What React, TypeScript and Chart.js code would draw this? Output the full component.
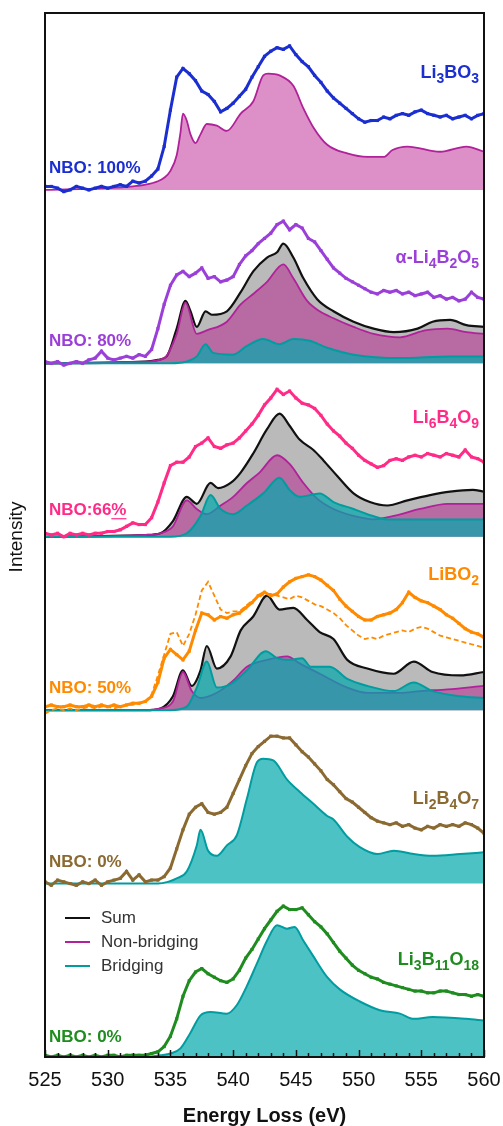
import React, { useEffect, useRef } from 'react';
import { Chart, registerables } from 'chart.js';
Chart.register(...registerables);

// Experimental energy grid (eV)
const expEnergy = [
  525, 525.5, 526, 526.5, 527, 527.5, 528, 528.5, 529, 529.5,
  530, 530.5, 531, 531.5, 532, 532.5, 533, 533.5, 534, 534.5,
  535, 535.5, 536, 536.5, 537, 537.5, 538, 538.5, 539, 539.5,
  540, 540.5, 541, 541.5, 542, 542.5, 543, 543.5, 544, 544.5,
  545, 545.5, 546, 546.5, 547, 547.5, 548, 548.5, 549, 549.5,
  550, 550.5, 551, 551.5, 552, 552.5, 553, 553.5, 554, 554.5,
  555, 555.5, 556, 556.5, 557, 557.5, 558, 558.5, 559, 559.5,
  560,
];

// Experimental spectra (normalised intensity within each panel)
const li3bo3Exp = [
  0.02, 0.02, 0.01, -0.01, 0.0, 0.02, 0.01, 0.0, 0.01, 0.02,
  0.01, 0.02, 0.03, 0.02, 0.05, 0.04, 0.05, 0.08, 0.12, 0.25,
  0.46, 0.65, 0.7, 0.67, 0.63, 0.57, 0.55, 0.51, 0.45, 0.47,
  0.5, 0.54, 0.58, 0.65, 0.71, 0.77, 0.8, 0.82, 0.81, 0.83,
  0.78, 0.74, 0.71, 0.66, 0.62, 0.57, 0.53, 0.5, 0.47, 0.44,
  0.41, 0.39, 0.4, 0.4, 0.42, 0.41, 0.43, 0.44, 0.43, 0.45,
  0.46, 0.44, 0.43, 0.42, 0.43, 0.41, 0.42, 0.43, 0.41, 0.43,
  0.44,
];
const li4b2o5Exp = [
  0.01, 0.0, 0.01, -0.01, 0.0, 0.01, 0.0, 0.02, 0.03, 0.07,
  0.03, 0.02, 0.03, 0.04, 0.03, 0.05, 0.04, 0.08, 0.2, 0.34,
  0.45, 0.51, 0.53, 0.5, 0.52, 0.55, 0.49, 0.5, 0.47, 0.48,
  0.5, 0.57, 0.62, 0.65, 0.69, 0.72, 0.75, 0.8, 0.82, 0.77,
  0.8, 0.78, 0.72, 0.7, 0.65, 0.6, 0.55, 0.52, 0.49, 0.47,
  0.45, 0.43, 0.41, 0.4, 0.42, 0.41, 0.42, 0.4, 0.41, 0.39,
  0.4, 0.41, 0.38, 0.39, 0.37, 0.38, 0.36, 0.37, 0.41, 0.38,
  0.37,
];
const li6b4o9Exp = [
  0.02, 0.01, 0.02, 0.0, 0.02, 0.01, 0.02, 0.01, 0.02, 0.02,
  0.03, 0.03, 0.04, 0.06, 0.08, 0.07, 0.07, 0.11, 0.2, 0.31,
  0.41, 0.43, 0.43, 0.46, 0.52, 0.54, 0.57, 0.52, 0.51, 0.53,
  0.54, 0.57, 0.61, 0.65, 0.7, 0.76, 0.8, 0.85, 0.82, 0.84,
  0.8, 0.77, 0.76, 0.74, 0.7, 0.65, 0.61, 0.58, 0.54, 0.51,
  0.47, 0.44, 0.42, 0.4, 0.41, 0.44, 0.45, 0.44, 0.46, 0.47,
  0.46, 0.48, 0.47, 0.46, 0.48, 0.47, 0.46, 0.5, 0.46, 0.45,
  0.43,
];
const libo2Exp = [
  0.02, 0.03, 0.02, 0.02, 0.03, 0.02, 0.02, 0.03, 0.02, 0.03,
  0.02, 0.03, 0.02, 0.03, 0.04, 0.04, 0.05, 0.08, 0.16, 0.3,
  0.35, 0.32, 0.29, 0.34, 0.46, 0.56, 0.55, 0.52, 0.54, 0.53,
  0.55, 0.56, 0.59, 0.62, 0.66, 0.68, 0.66, 0.67, 0.71, 0.74,
  0.76, 0.77, 0.78, 0.77, 0.75, 0.72, 0.69, 0.64, 0.6, 0.57,
  0.54, 0.52, 0.52, 0.54, 0.55, 0.56, 0.58, 0.62, 0.68, 0.65,
  0.63, 0.62, 0.6, 0.58, 0.55, 0.53, 0.5, 0.47, 0.45, 0.44,
  0.42,
];
const libo2ExpDashed = [
  -0.02, 0.0, 0.01, 0.0, 0.01, 0.0, 0.01, 0.02, 0.01, 0.02,
  0.02, 0.01, 0.02, 0.03, 0.03, 0.04, 0.05, 0.09, 0.2, 0.32,
  0.44, 0.45, 0.37, 0.44, 0.55, 0.69, 0.74, 0.66, 0.58, 0.56,
  0.57, 0.57, 0.6, 0.63, 0.65, 0.67, 0.67, 0.66, 0.65, 0.64,
  0.66, 0.65, 0.63, 0.61, 0.6, 0.58, 0.56, 0.53, 0.49, 0.46,
  0.43, 0.41, 0.42, 0.41, 0.43, 0.44, 0.45, 0.46, 0.45, 0.47,
  0.48, 0.47, 0.45, 0.43, 0.42, 0.41, 0.4, 0.39, 0.38, 0.37,
  0.36,
];
const li2b4o7Exp = [
  0.01, -0.01, 0.02, 0.01, 0.0, -0.01, 0.01, 0.0, 0.02, -0.01,
  0.01, 0.02, 0.03, 0.07, 0.02, 0.05, 0.01, 0.02, 0.02, 0.04,
  0.09, 0.2, 0.31, 0.4, 0.44, 0.46, 0.41, 0.4, 0.41, 0.44,
  0.52, 0.6, 0.68, 0.75, 0.79, 0.82, 0.85, 0.85, 0.84, 0.84,
  0.8, 0.76, 0.73, 0.69, 0.65, 0.6, 0.57, 0.53, 0.49, 0.47,
  0.44, 0.41, 0.38, 0.36, 0.35, 0.34, 0.35, 0.33, 0.34, 0.32,
  0.31, 0.33, 0.32, 0.34, 0.33, 0.34, 0.33, 0.35, 0.34, 0.32,
  0.29,
];
const li3b11o18Exp = [
  0.01, 0.0, 0.01, 0.0, 0.01, 0.0, 0.01, 0.0, 0.01, 0.0,
  0.01, 0.01, 0.0, 0.01, 0.01, 0.01, 0.01, 0.02, 0.03, 0.06,
  0.12, 0.22, 0.35, 0.44, 0.49, 0.51, 0.48, 0.46, 0.44, 0.43,
  0.45, 0.5, 0.57, 0.62, 0.68, 0.74, 0.79, 0.84, 0.87, 0.85,
  0.85, 0.86, 0.82, 0.78, 0.75, 0.71, 0.66, 0.61, 0.57, 0.53,
  0.5, 0.48, 0.46, 0.45, 0.43, 0.42, 0.41, 0.4, 0.39, 0.38,
  0.38, 0.37, 0.37, 0.38, 0.38, 0.37, 0.36, 0.36, 0.35, 0.36,
  0.35,
];

// Calculated components
const nb1E = [525, 530, 532, 533, 534, 534.5, 535, 535.5, 535.8, 536, 536.3, 536.6, 537, 537.4, 537.9, 538.7, 539.5, 540.6, 541.6, 542.4, 542.8, 543.7, 544.8, 545.6, 546.4, 547.5, 549.1, 550.7, 552, 552.7, 553.9, 556.5, 558.6, 560];
const nb1V = [0.0, 0.01, 0.02, 0.03, 0.05, 0.07, 0.11, 0.2, 0.33, 0.44, 0.4, 0.32, 0.27, 0.32, 0.38, 0.37, 0.34, 0.44, 0.51, 0.66, 0.67, 0.66, 0.6, 0.47, 0.36, 0.26, 0.21, 0.19, 0.19, 0.23, 0.25, 0.22, 0.25, 0.22];

const sum2E = [525, 533, 534, 534.7, 535.5, 536.2, 536.6, 537.1, 537.8, 538.3, 539.5, 540.6, 541.6, 542.7, 543.5, 544, 544.8, 545.6, 546.7, 548, 549.6, 551.2, 552.8, 554.7, 555.9, 557.3, 558.6, 560];
const sum2V = [0, 0.01, 0.02, 0.04, 0.2, 0.36, 0.3, 0.21, 0.3, 0.28, 0.3, 0.41, 0.53, 0.61, 0.64, 0.69, 0.61, 0.49, 0.37, 0.3, 0.24, 0.2, 0.18, 0.2, 0.24, 0.25, 0.22, 0.21];
const nb2E = [525, 533, 534.5, 535.5, 536.2, 537.1, 537.9, 539.5, 540.6, 541.6, 542.7, 544, 544.8, 545.9, 546.9, 548, 549.6, 551.2, 553.3, 555.3, 557.1, 558.6, 560];
const nb2V = [0, 0.01, 0.03, 0.17, 0.35, 0.17, 0.19, 0.24, 0.34, 0.4, 0.47, 0.57, 0.49, 0.36, 0.3, 0.26, 0.21, 0.17, 0.15, 0.19, 0.2, 0.18, 0.17];
const br2E = [525, 535, 536.3, 537.1, 537.8, 538.4, 540, 541.1, 542.4, 543.7, 544.8, 546.1, 547.5, 549.6, 553.3, 557.3, 560];
const br2V = [0, 0.0, 0.01, 0.04, 0.11, 0.06, 0.05, 0.1, 0.14, 0.11, 0.14, 0.13, 0.09, 0.05, 0.03, 0.04, 0.04];

const sum3E = [525, 533, 534.2, 535.2, 536.3, 537.1, 538.2, 538.8, 539.8, 540.6, 541.6, 542.7, 543.7, 544.5, 545.3, 546.4, 547.2, 548.3, 549.6, 550.9, 552.3, 553.9, 555.7, 557.3, 559.1, 560];
const sum3V = [0, 0.01, 0.02, 0.09, 0.23, 0.19, 0.31, 0.28, 0.31, 0.37, 0.48, 0.62, 0.71, 0.64, 0.56, 0.5, 0.44, 0.35, 0.25, 0.2, 0.18, 0.21, 0.24, 0.26, 0.27, 0.26];
const nb3E = [525, 533, 534.2, 535.2, 536.3, 537.1, 537.9, 539, 540, 541.1, 542.1, 543.5, 544.5, 545.6, 546.7, 548, 549.6, 551.2, 552.8, 554.9, 557.1, 559.1, 560];
const nb3V = [0, 0.01, 0.02, 0.06, 0.21, 0.16, 0.13, 0.18, 0.23, 0.31, 0.37, 0.47, 0.42, 0.31, 0.22, 0.16, 0.12, 0.1, 0.12, 0.16, 0.19, 0.19, 0.19];
const br3E = [525, 535, 536.3, 537.4, 538.2, 539, 540, 541.1, 542.4, 543.7, 544.5, 545.3, 546.9, 548, 549.6, 550.7, 552.3, 555.9, 560];
const br3V = [0, 0.0, 0.02, 0.12, 0.24, 0.16, 0.13, 0.18, 0.25, 0.34, 0.27, 0.23, 0.25, 0.2, 0.16, 0.13, 0.1, 0.1, 0.1];

const sum4E = [525, 533, 534.2, 535.2, 536, 536.7, 537.4, 537.9, 538.7, 539.8, 540.6, 541.6, 542.7, 543.7, 544.8, 545.9, 546.9, 548, 549.1, 550.7, 552.8, 554.4, 555.9, 558.1, 560];
const sum4V = [0, 0.0, 0.01, 0.08, 0.23, 0.14, 0.23, 0.37, 0.24, 0.31, 0.46, 0.54, 0.66, 0.58, 0.59, 0.52, 0.45, 0.41, 0.29, 0.24, 0.21, 0.28, 0.22, 0.2, 0.22];
const nb4E = [525, 533, 534.2, 535.2, 536, 536.7, 537.4, 538.7, 540, 541.1, 542.7, 544.3, 545.3, 546.9, 549.1, 550.7, 553.3, 554.9, 557.1, 560];
const nb4V = [0, 0.0, 0.01, 0.05, 0.22, 0.11, 0.07, 0.1, 0.17, 0.25, 0.29, 0.31, 0.27, 0.21, 0.13, 0.1, 0.1, 0.11, 0.12, 0.14];
const br4E = [525, 535, 536.3, 537.1, 537.9, 538.7, 539.8, 541.1, 542.6, 543.5, 544.5, 545.5, 546.2, 547.7, 549.1, 550.7, 552.8, 554.4, 555.9, 558.1, 560];
const br4V = [0, 0.0, 0.02, 0.13, 0.28, 0.13, 0.15, 0.23, 0.34, 0.3, 0.29, 0.3, 0.25, 0.25, 0.18, 0.14, 0.11, 0.16, 0.11, 0.08, 0.07];

const br5E = [525, 534, 534.8, 535.5, 536.3, 537.1, 537.4, 538, 538.7, 539.5, 540.3, 541.1, 541.9, 542.4, 543.2, 544.3, 545.3, 546.4, 547.5, 548, 549.1, 550.1, 551.5, 552.8, 554.4, 555.9, 558.1, 560];
const br5V = [0, 0.0, 0.01, 0.03, 0.07, 0.22, 0.31, 0.19, 0.16, 0.22, 0.28, 0.49, 0.7, 0.72, 0.71, 0.6, 0.53, 0.46, 0.39, 0.37, 0.27, 0.21, 0.17, 0.19, 0.17, 0.16, 0.17, 0.18];

const br6E = [525, 533, 534.2, 535, 535.8, 536.6, 537.4, 538.2, 539.5, 540.3, 541.1, 541.9, 542.7, 543.5, 544.3, 544.9, 545.6, 546.4, 547.5, 548.5, 550.1, 551.7, 553.3, 554.4, 555.9, 558.6, 560];
const br6V = [0, 0.0, 0.01, 0.02, 0.05, 0.14, 0.24, 0.26, 0.25, 0.3, 0.41, 0.54, 0.67, 0.76, 0.74, 0.75, 0.67, 0.58, 0.46, 0.39, 0.32, 0.27, 0.25, 0.22, 0.23, 0.22, 0.21];

const xTicks = [525, 530, 535, 540, 545, 550, 555, 560];
const legendLabels = ['Sum', 'Non-bridging', 'Bridging'];

const FONT = "'Liberation Sans', Arial, Helvetica, sans-serif";
const C_SUM = '#111111';
const C_NB = '#b0219a';
const C_BR = '#009c9f';
const F_SUM = '#bababa';
const F_NB = 'rgba(181,20,136,0.47)';
const F_BR = 'rgba(0,168,172,0.7)';

type Seg = { t: string; sub?: boolean };
const panels: { off: number; color: string; name: Seg[]; nameDy: number; nbo: string; nboDy: number }[] = [
  { off: 5, color: '#1b2ed0', name: [{ t: 'Li' }, { t: '3', sub: true }, { t: 'BO' }, { t: '3', sub: true }], nameDy: 112, nbo: 'NBO: 100%', nboDy: 17 },
  { off: 4, color: '#9b3fd9', name: [{ t: 'α-Li' }, { t: '4', sub: true }, { t: 'B' }, { t: '2', sub: true }, { t: 'O' }, { t: '5', sub: true }], nameDy: 100, nbo: 'NBO: 80%', nboDy: 17 },
  { off: 3, color: '#ff2b87', name: [{ t: 'Li' }, { t: '6', sub: true }, { t: 'B' }, { t: '4', sub: true }, { t: 'O' }, { t: '9', sub: true }], nameDy: 114, nbo: 'NBO:66%', nboDy: 22 },
  { off: 2, color: '#ff8a00', name: [{ t: 'LiBO' }, { t: '2', sub: true }], nameDy: 130, nbo: 'NBO: 50%', nboDy: 17 },
  { off: 1, color: '#8b6a32', name: [{ t: 'Li' }, { t: '2', sub: true }, { t: 'B' }, { t: '4', sub: true }, { t: 'O' }, { t: '7', sub: true }], nameDy: 80, nbo: 'NBO: 0%', nboDy: 17 },
  { off: 0, color: '#1f8c1f', name: [{ t: 'Li' }, { t: '3', sub: true }, { t: 'B' }, { t: '11', sub: true }, { t: 'O' }, { t: '18', sub: true }], nameDy: 92, nbo: 'NBO: 0%', nboDy: 15 },
];

const pts = (E: number[], V: number[], off: number) => E.map((e, i) => ({ x: e, y: V[i] + off }));

function expSet(V: number[], off: number, color: string, dashed = false) {
  return {
    data: pts(expEnergy, V, off),
    borderColor: color,
    backgroundColor: color,
    borderWidth: dashed ? 1.8 : 3,
    borderDash: dashed ? [5, 3] : [],
    pointStyle: 'rect',
    pointRadius: dashed ? 0 : 2.2,
    pointBorderWidth: 0,
    pointBackgroundColor: color,
    fill: false,
  };
}
function modelSet(E: number[], V: number[], off: number, line: string, fillC: string, width: number) {
  return {
    data: pts(E, V, off),
    borderColor: line,
    borderWidth: width,
    backgroundColor: fillC,
    cubicInterpolationMode: 'monotone',
    pointRadius: 0,
    fill: { value: off },
  };
}

const deco = {
  id: 'deco',
  afterDraw(chart: any) {
    const { ctx, chartArea: a, scales } = chart;
    const x = scales.x;
    const y = scales.y;
    ctx.save();
    // tick marks (inward)
    ctx.strokeStyle = '#111';
    ctx.lineWidth = 1.5;
    for (let e = 525; e <= 560; e++) {
      const px = Math.round(x.getPixelForValue(e)) + 0.5;
      const len = e % 5 === 0 ? 7 : 4;
      ctx.beginPath();
      ctx.moveTo(px, a.bottom);
      ctx.lineTo(px, a.bottom - len);
      ctx.stroke();
    }
    // frame
    ctx.lineWidth = 2;
    ctx.strokeRect(a.left, a.top, a.right - a.left, a.bottom - a.top);

    // panel labels
    ctx.textBaseline = 'alphabetic';
    panels.forEach((p) => {
      const base = y.getPixelForValue(p.off);
      const mainF = `bold 18px ${FONT}`;
      const subF = `bold 14px ${FONT}`;
      let total = 0;
      p.name.forEach((s) => {
        ctx.font = s.sub ? subF : mainF;
        total += ctx.measureText(s.t).width;
      });
      let cx = 479 - total;
      const by = base - p.nameDy;
      ctx.fillStyle = p.color;
      ctx.textAlign = 'left';
      p.name.forEach((s) => {
        ctx.font = s.sub ? subF : mainF;
        ctx.fillText(s.t, cx, s.sub ? by + 5 : by);
        cx += ctx.measureText(s.t).width;
      });
      ctx.font = `bold 17px ${FONT}`;
      ctx.fillText(p.nbo, 49, base - p.nboDy);
      if (p.nbo === 'NBO:66%') {
        const w = ctx.measureText(p.nbo).width;
        const pw = ctx.measureText('%').width;
        ctx.strokeStyle = p.color;
        ctx.lineWidth = 1.2;
        ctx.beginPath();
        ctx.moveTo(49 + w - pw, base - p.nboDy + 4);
        ctx.lineTo(49 + w, base - p.nboDy + 4);
        ctx.stroke();
      }
    });

    // legend
    const lc = [C_SUM, C_NB, C_BR];
    legendLabels.forEach((t, i) => {
      const ly = 918 + i * 24;
      ctx.strokeStyle = lc[i];
      ctx.lineWidth = 2;
      ctx.beginPath();
      ctx.moveTo(65, ly);
      ctx.lineTo(90, ly);
      ctx.stroke();
      ctx.fillStyle = '#333';
      ctx.font = `17px ${FONT}`;
      ctx.textBaseline = 'middle';
      ctx.textAlign = 'left';
      ctx.fillText(t, 101, ly);
    });

    // axis titles
    ctx.fillStyle = '#111';
    ctx.textAlign = 'center';
    ctx.textBaseline = 'middle';
    ctx.font = `bold 20px ${FONT}`;
    ctx.fillText('Energy Loss (eV)', (a.left + a.right) / 2, 1116);
    ctx.translate(17, 537);
    ctx.rotate(-Math.PI / 2);
    ctx.font = `19px ${FONT}`;
    ctx.fillText('Intensity', 0, 0);
    ctx.restore();
  },
};

export default function App() {
  const ref = useRef<HTMLCanvasElement>(null);
  useEffect(() => {
    if (!ref.current) return;
    const datasets: any[] = [
      expSet(li3bo3Exp, 5, '#1b2ed0'),
      expSet(li4b2o5Exp, 4, '#9b3fd9'),
      expSet(li6b4o9Exp, 3, '#ff2b87'),
      expSet(libo2Exp, 2, '#ff8a00'),
      expSet(libo2ExpDashed, 2, '#ff8a00', true),
      expSet(li2b4o7Exp, 1, '#8b6a32'),
      expSet(li3b11o18Exp, 0, '#1f8c1f'),
      modelSet(br2E, br2V, 4, C_BR, F_BR, 2),
      modelSet(br3E, br3V, 3, C_BR, F_BR, 2),
      modelSet(br4E, br4V, 2, C_BR, F_BR, 2),
      modelSet(br5E, br5V, 1, C_BR, F_BR, 2),
      modelSet(br6E, br6V, 0, C_BR, F_BR, 2),
      modelSet(nb1E, nb1V, 5, C_NB, F_NB, 1.8),
      modelSet(nb2E, nb2V, 4, C_NB, F_NB, 1.8),
      modelSet(nb3E, nb3V, 3, C_NB, F_NB, 1.8),
      modelSet(nb4E, nb4V, 2, C_NB, F_NB, 1.8),
      modelSet(sum2E, sum2V, 4, C_SUM, F_SUM, 2.2),
      modelSet(sum3E, sum3V, 3, C_SUM, F_SUM, 2.2),
      modelSet(sum4E, sum4V, 2, C_SUM, F_SUM, 2.2),
    ];
    const chart = new Chart(ref.current, {
      type: 'line',
      data: { datasets },
      options: {
        animation: false,
        responsive: true,
        maintainAspectRatio: false,
        layout: { padding: { left: 45, right: 19, top: 13, bottom: 0 } },
        plugins: { legend: { display: false }, tooltip: { enabled: false } },
        scales: {
          x: {
            type: 'linear',
            min: 525,
            max: 560,
            afterFit: (s: any) => { s.height = 69; s.paddingLeft = 0; s.paddingRight = 0; },
            afterBuildTicks: (s: any) => { s.ticks = xTicks.map((v) => ({ value: v })); },
            ticks: { font: { size: 20, family: FONT }, color: '#111', padding: 11, maxRotation: 0, autoSkip: false },
            grid: { display: false, drawTicks: false },
            border: { display: false },
          },
          y: { type: 'linear', min: 0, max: 6.02, display: false },
        },
      },
      plugins: [deco],
    } as any);
    return () => chart.destroy();
  }, []);
  return (
    <div style={{ position: 'fixed', left: 0, top: 0, width: 503, height: 1126, background: '#fff' }}>
      <canvas ref={ref} />
    </div>
  );
}
